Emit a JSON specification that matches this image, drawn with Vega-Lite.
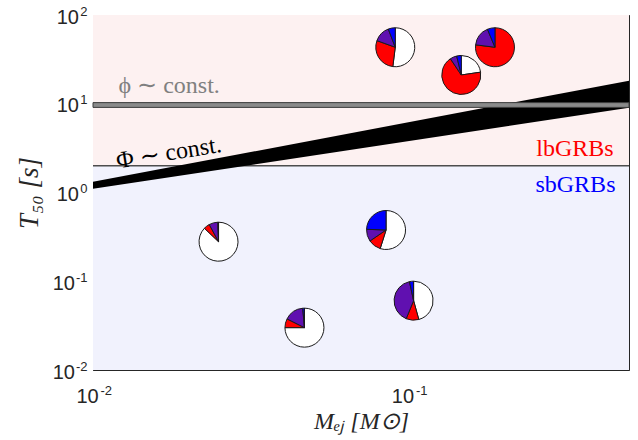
{
  "$schema": "https://vega.github.io/schema/vega-lite/v6.json",
  "width": 536,
  "height": 355,
  "autosize": "none",
  "padding": {"left": 93, "top": 15, "right": 9, "bottom": 70},
  "background": "white",
  "config": {
    "view": {"stroke": null},
    "axis": {
      "grid": false,
      "domainColor": "#262626",
      "domainWidth": 1,
      "tickColor": "#262626",
      "tickWidth": 0.8,
      "labelFont": "Liberation Sans",
      "labelColor": "#262626",
      "labelOverlap": false,
      "labelFlush": false,
      "labelBound": false,
      "titleFont": "Liberation Serif",
      "titleFontSize": 24,
      "titleFontWeight": "normal",
      "titleFontStyle": "italic",
      "titleColor": "#262626",
      "zindex": 1
    }
  },
  "datasets": {
    "bg": [
      {"x1": 0.01, "x2": 0.5, "y1": 2, "y2": 100, "region": "long"},
      {"x1": 0.01, "x2": 0.5, "y1": 0.01, "y2": 2, "region": "short"}
    ],
    "band": [{"x1": 0.01, "x2": 0.5, "y1": 9.1, "y2": 10.3}],
    "split": [{"x1": 0.01, "x2": 0.5, "y": 2}],
    "wedge": [
      {"x": 0.01, "lo": 1.1, "hi": 1.32},
      {"x": 0.5, "lo": 9.0, "hi": 18.2}
    ],
    "pies": [
      {"pie": "P1", "x": 0.0908, "y": 43.3, "k": 1, "c": "w", "v": 52},
      {"pie": "P1", "x": 0.0908, "y": 43.3, "k": 2, "c": "r", "v": 28.5},
      {"pie": "P1", "x": 0.0908, "y": 43.3, "k": 3, "c": "p", "v": 13.7},
      {"pie": "P1", "x": 0.0908, "y": 43.3, "k": 4, "c": "b", "v": 5.8},
      {"pie": "P2", "x": 0.147, "y": 21.1, "k": 1, "c": "w", "v": 22.7},
      {"pie": "P2", "x": 0.147, "y": 21.1, "k": 2, "c": "r", "v": 67.9},
      {"pie": "P2", "x": 0.147, "y": 21.1, "k": 3, "c": "p", "v": 5.6},
      {"pie": "P2", "x": 0.147, "y": 21.1, "k": 4, "c": "b", "v": 3.8},
      {"pie": "P3", "x": 0.188, "y": 43.3, "k": 2, "c": "r", "v": 77},
      {"pie": "P3", "x": 0.188, "y": 43.3, "k": 3, "c": "p", "v": 16.7},
      {"pie": "P3", "x": 0.188, "y": 43.3, "k": 4, "c": "b", "v": 6.3},
      {"pie": "PA", "x": 0.025, "y": 0.279, "k": 1, "c": "w", "v": 87.1},
      {"pie": "PA", "x": 0.025, "y": 0.279, "k": 2, "c": "r", "v": 5},
      {"pie": "PA", "x": 0.025, "y": 0.279, "k": 3, "c": "p", "v": 7.3},
      {"pie": "PA", "x": 0.025, "y": 0.279, "k": 4, "c": "b", "v": 0.6},
      {"pie": "PB", "x": 0.0849, "y": 0.378, "k": 1, "c": "w", "v": 54.8},
      {"pie": "PB", "x": 0.0849, "y": 0.378, "k": 2, "c": "r", "v": 10.6},
      {"pie": "PB", "x": 0.0849, "y": 0.378, "k": 3, "c": "p", "v": 10.1},
      {"pie": "PB", "x": 0.0849, "y": 0.378, "k": 4, "c": "b", "v": 24.4},
      {"pie": "PC", "x": 0.0468, "y": 0.030, "k": 1, "c": "w", "v": 75},
      {"pie": "PC", "x": 0.0468, "y": 0.030, "k": 2, "c": "r", "v": 7.4},
      {"pie": "PC", "x": 0.0468, "y": 0.030, "k": 3, "c": "p", "v": 16.2},
      {"pie": "PC", "x": 0.0468, "y": 0.030, "k": 4, "c": "b", "v": 1.4},
      {"pie": "PD", "x": 0.1038, "y": 0.0604, "k": 1, "c": "w", "v": 45.7},
      {"pie": "PD", "x": 0.1038, "y": 0.0604, "k": 2, "c": "r", "v": 10.5},
      {"pie": "PD", "x": 0.1038, "y": 0.0604, "k": 3, "c": "p", "v": 40.4},
      {"pie": "PD", "x": 0.1038, "y": 0.0604, "k": 4, "c": "b", "v": 3.4}
    ],
    "phi": [{"x": 0.01205, "y": 13.1, "t": "ϕ ∼ const."}],
    "Phi": [{"x": 0.01196, "y": 1.864, "t": "Φ ∼ const."}],
    "lb": [{"x": 0.447, "y": 2.6, "t": "lbGRBs"}],
    "sb": [{"x": 0.453, "y": 1.02, "t": "sbGRBs"}]
  },
  "layer": [
    {
      "data": {"name": "bg"},
      "mark": {"type": "rect"},
      "encoding": {
        "x": {"field": "x1", "type": "quantitative",
          "scale": {"type": "log", "domain": [0.01, 0.5], "nice": false},
          "title": "Mₑⱼ [M⊙]",
          "axis": {
            "orient": "bottom",
            "domain": true,
            "ticks": false,
            "values": [0.01, 0.1],
            "labelFontSize": 20,
            "labelAlign": "center",
            "labelBaseline": "alphabetic",
            "labelPadding": 32.5,
            "labelOffset": -6,
            "labelExpr": "'10'",
            "titleY": 58,
            "titleBaseline": "alphabetic"
          }
        },
        "x2": {"field": "x2"},
        "y": {"field": "y1", "type": "quantitative",
          "scale": {"type": "log", "domain": [0.01, 100], "nice": false},
          "title": "T₅₀ [s]",
          "axis": {
            "orient": "left",
            "domain": true,
            "ticks": false,
            "values": [0.01, 0.1, 1, 10, 100],
            "labelFontSize": 20,
            "labelAlign": "right",
            "labelBaseline": "alphabetic",
            "labelOffset": 8,
            "labelPadding": {"condition": {"test": "datum.value < 0.5", "value": 18.5}, "value": 14.5},
            "labelExpr": "'10'",
            "titleFontSize": 27,
            "titleX": -56,
            "titleBaseline": "alphabetic"
          }
        },
        "y2": {"field": "y2"},
        "color": {"field": "region", "type": "nominal",
          "scale": {"domain": ["long", "short"], "range": ["#fdf1f1", "#f1f2fd"]},
          "legend": null}
      }
    },
    {
      "data": {"name": "split"},
      "mark": {"type": "rule", "color": "#4d4d4d", "strokeWidth": 1.5},
      "encoding": {
        "x": {"field": "x1", "type": "quantitative",
          "scale": {"type": "log", "domain": [0.01, 0.5], "nice": false},
          "axis": {
            "orient": "bottom",
            "domain": false,
            "ticks": false,
            "title": null,
            "values": [0.01, 0.1],
            "labelFontSize": 13,
            "labelAlign": "left",
            "labelBaseline": "alphabetic",
            "labelPadding": 24.5,
            "labelOffset": 7,
            "labelExpr": "datum.value == 0.01 ? '-2' : '-1'"
          }
        },
        "x2": {"field": "x2"},
        "y": {"field": "y", "type": "quantitative",
          "scale": {"type": "log", "domain": [0.01, 100], "nice": false},
          "axis": {
            "orient": "left",
            "domain": false,
            "ticks": false,
            "title": null,
            "values": [0.01, 0.1, 1, 10, 100],
            "labelFontSize": 13,
            "labelAlign": "right",
            "labelBaseline": "alphabetic",
            "labelOffset": 0,
            "labelPadding": 6,
            "labelExpr": "datum.value == 0.01 ? '-2' : datum.value == 0.1 ? '-1' : datum.value == 1 ? '0' : datum.value == 10 ? '1' : '2'"
          }
        }
      }
    },
    {
      "data": {"name": "wedge"},
      "mark": {"type": "area", "color": "#000000", "opacity": 1},
      "encoding": {
        "x": {"field": "x", "type": "quantitative",
          "scale": {"type": "log", "domain": [0.01, 0.5], "nice": false},
          "axis": {
            "orient": "bottom",
            "domain": false,
            "labels": false,
            "title": null,
            "values": [0.01,0.02,0.03,0.04,0.05,0.06,0.07,0.08,0.09,0.1,0.2,0.3,0.4],
            "tickSize": {"condition": {"test": "datum.value == 0.01 || datum.value == 0.1", "value": -6}, "value": -3}
          }
        },
        "y": {"field": "hi", "type": "quantitative",
          "scale": {"type": "log", "domain": [0.01, 100], "nice": false},
          "axis": {
            "orient": "left",
            "domain": false,
            "labels": false,
            "title": null,
            "values": [0.01,0.02,0.03,0.04,0.05,0.06,0.07,0.08,0.09,0.1,0.2,0.3,0.4,0.5,0.6,0.7,0.8,0.9,1,2,3,4,5,6,7,8,9,10,20,30,40,50,60,70,80,90,100],
            "tickSize": {"condition": {"test": "datum.value == 0.01 || datum.value == 0.1 || datum.value == 1 || datum.value == 10 || datum.value == 100", "value": -6}, "value": -3}
          }
        },
        "y2": {"field": "lo"}
      }
    },
    {
      "data": {"name": "band"},
      "mark": {"type": "rect", "fill": "#8a8a8a", "stroke": "#3c3c3c", "strokeWidth": 1},
      "encoding": {
        "x": {"field": "x1", "type": "quantitative",
          "scale": {"type": "log", "domain": [0.01, 0.5], "nice": false},
          "axis": {
            "orient": "top",
            "domain": true,
            "labels": false,
            "title": null,
            "values": [0.01,0.02,0.03,0.04,0.05,0.06,0.07,0.08,0.09,0.1,0.2,0.3,0.4],
            "tickSize": {"condition": {"test": "datum.value == 0.01 || datum.value == 0.1", "value": -6}, "value": -3}
          }
        },
        "x2": {"field": "x2"},
        "y": {"field": "y1", "type": "quantitative",
          "scale": {"type": "log", "domain": [0.01, 100], "nice": false},
          "axis": {
            "orient": "right",
            "domain": true,
            "labels": false,
            "title": null,
            "values": [0.01,0.02,0.03,0.04,0.05,0.06,0.07,0.08,0.09,0.1,0.2,0.3,0.4,0.5,0.6,0.7,0.8,0.9,1,2,3,4,5,6,7,8,9,10,20,30,40,50,60,70,80,90,100],
            "tickSize": {"condition": {"test": "datum.value == 0.01 || datum.value == 0.1 || datum.value == 1 || datum.value == 10 || datum.value == 100", "value": -6}, "value": -3}
          }
        },
        "y2": {"field": "y2"}
      }
    },
    {
      "data": {"name": "pies"},
      "transform": [
        {"stack": "v", "groupby": ["pie"], "sort": [{"field": "k", "order": "ascending"}], "offset": "normalize", "as": ["t0", "t1"]}
      ],
      "mark": {"type": "arc", "outerRadius": 19.5, "stroke": "#1a1a1a", "strokeWidth": 1},
      "encoding": {
        "x": {"field": "x", "type": "quantitative", "scale": {"type": "log", "domain": [0.01, 0.5], "nice": false}, "axis": null},
        "y": {"field": "y", "type": "quantitative", "scale": {"type": "log", "domain": [0.01, 100], "nice": false}, "axis": null},
        "theta": {"field": "t0", "type": "quantitative", "scale": {"type": "linear", "domain": [0, 1], "range": [0, 6.283185307179586], "zero": false, "nice": false}},
        "theta2": {"field": "t1"},
        "color": {"field": "c", "type": "nominal",
          "scale": {"domain": ["w", "r", "p", "b"], "range": ["#ffffff", "#ff0000", "#6010b0", "#0000ff"]},
          "legend": null}
      }
    },
    {
      "data": {"name": "phi"},
      "mark": {"type": "text", "color": "#808080", "font": "Liberation Serif", "fontSize": 24, "align": "left", "baseline": "alphabetic"},
      "encoding": {
        "x": {"field": "x", "type": "quantitative", "scale": {"type": "log", "domain": [0.01, 0.5], "nice": false}, "axis": null},
        "y": {"field": "y", "type": "quantitative", "scale": {"type": "log", "domain": [0.01, 100], "nice": false}, "axis": null},
        "text": {"field": "t"}
      }
    },
    {
      "data": {"name": "Phi"},
      "mark": {"type": "text", "color": "#000000", "font": "Liberation Serif", "fontSize": 24, "align": "left", "baseline": "alphabetic", "angle": 351},
      "encoding": {
        "x": {"field": "x", "type": "quantitative", "scale": {"type": "log", "domain": [0.01, 0.5], "nice": false}, "axis": null},
        "y": {"field": "y", "type": "quantitative", "scale": {"type": "log", "domain": [0.01, 100], "nice": false}, "axis": null},
        "text": {"field": "t"}
      }
    },
    {
      "data": {"name": "lb"},
      "mark": {"type": "text", "color": "#ff0000", "font": "Liberation Serif", "fontSize": 24, "align": "right", "baseline": "alphabetic"},
      "encoding": {
        "x": {"field": "x", "type": "quantitative", "scale": {"type": "log", "domain": [0.01, 0.5], "nice": false}, "axis": null},
        "y": {"field": "y", "type": "quantitative", "scale": {"type": "log", "domain": [0.01, 100], "nice": false}, "axis": null},
        "text": {"field": "t"}
      }
    },
    {
      "data": {"name": "sb"},
      "mark": {"type": "text", "color": "#0000ff", "font": "Liberation Serif", "fontSize": 24, "align": "right", "baseline": "alphabetic"},
      "encoding": {
        "x": {"field": "x", "type": "quantitative", "scale": {"type": "log", "domain": [0.01, 0.5], "nice": false}, "axis": null},
        "y": {"field": "y", "type": "quantitative", "scale": {"type": "log", "domain": [0.01, 100], "nice": false}, "axis": null},
        "text": {"field": "t"}
      }
    }
  ],
  "resolve": {
    "axis": {"x": "independent", "y": "independent"},
    "scale": {"color": "independent"}
  }
}
